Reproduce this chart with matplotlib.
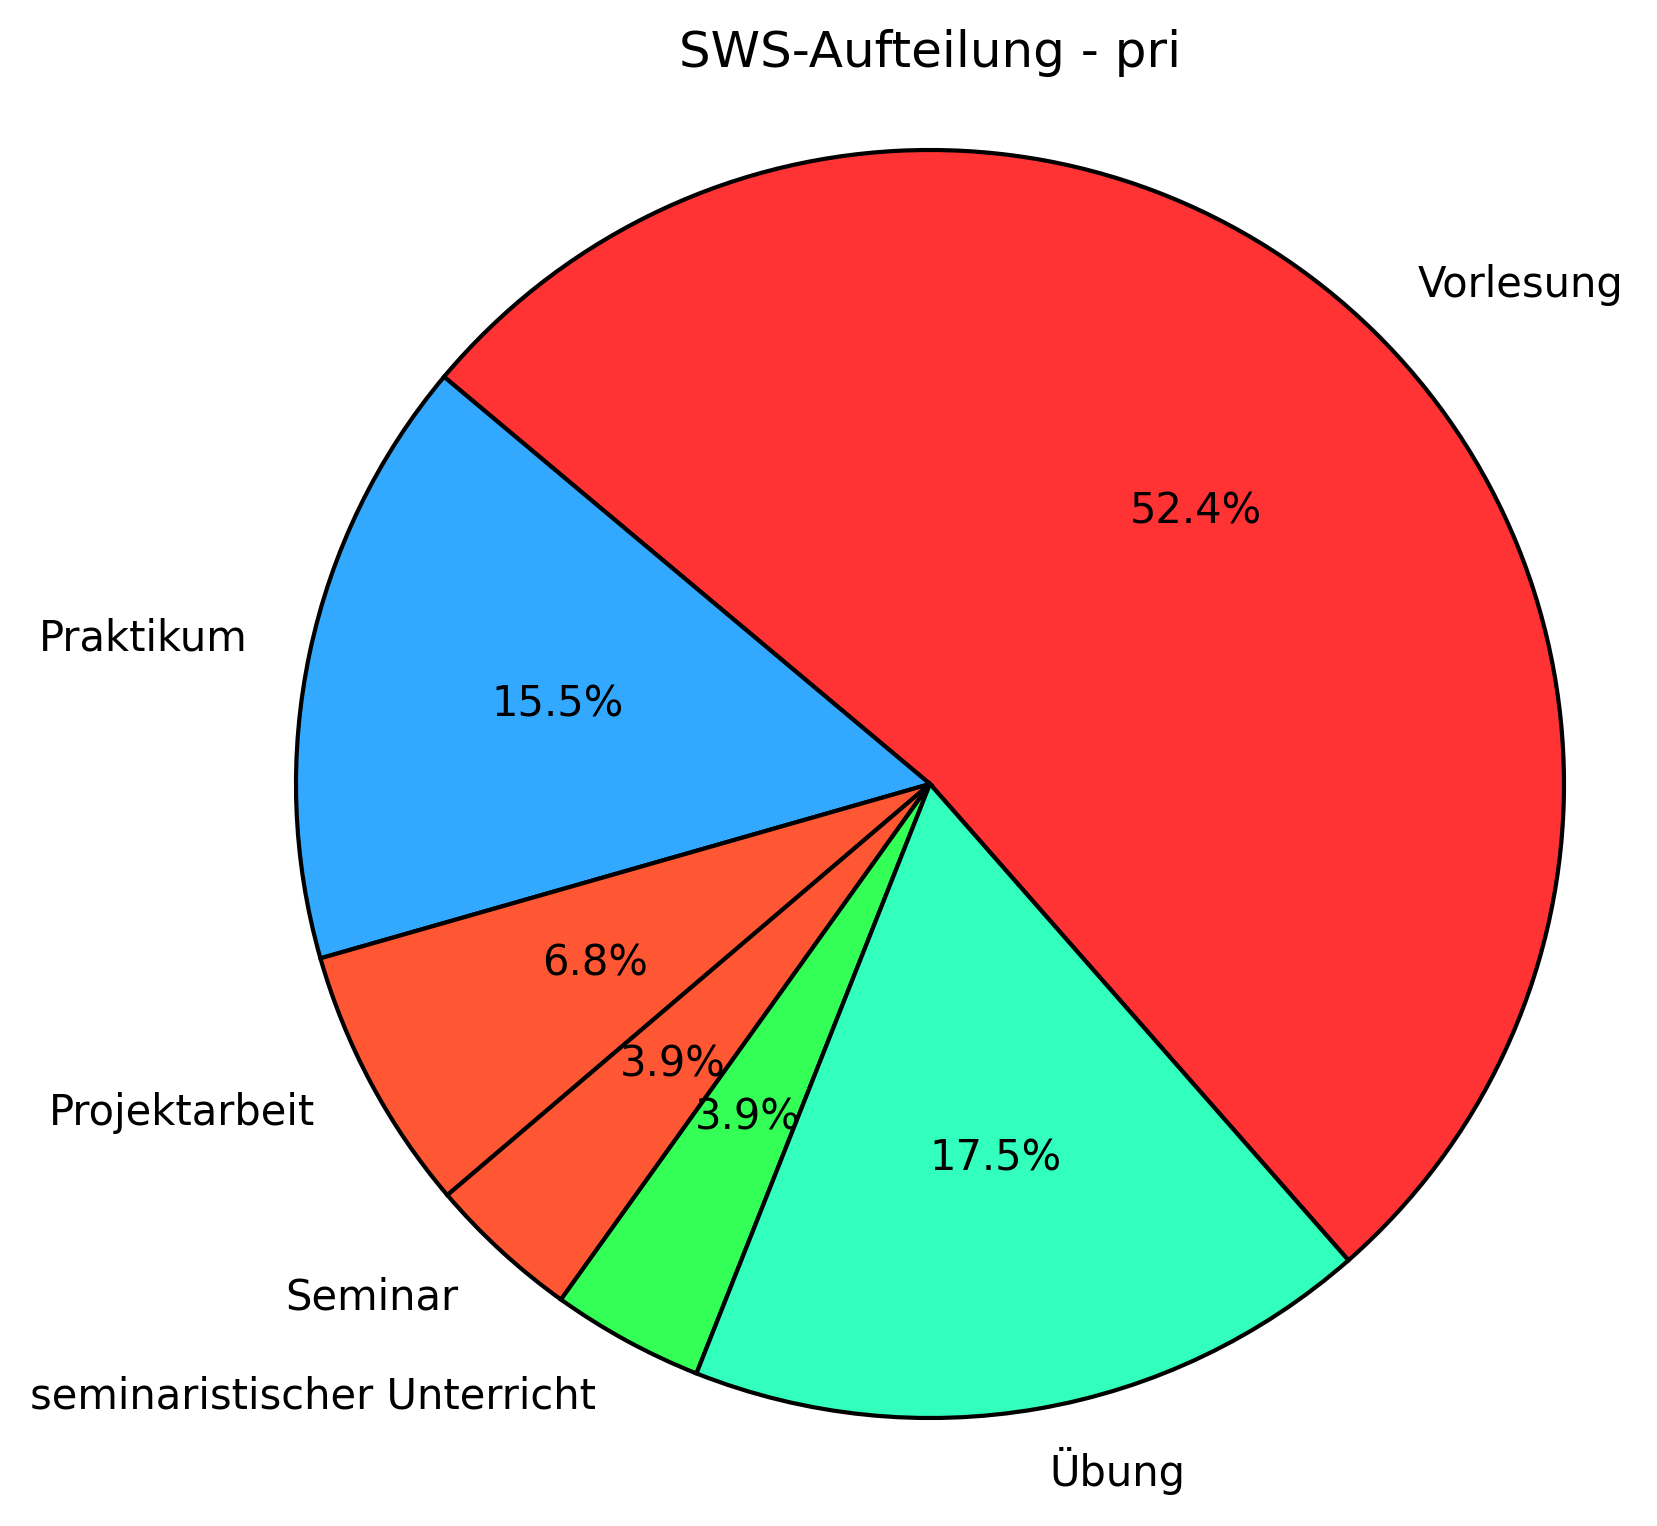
import matplotlib
matplotlib.use("Agg")
import matplotlib.pyplot as plt

categories = ["Vorlesung", "Praktikum", "Projektarbeit", "Seminar",
              "seminaristischer Unterricht", "Übung"]
sws = [54, 16, 7, 4, 4, 18]
colors = ["#FF3333", "#33A8FF", "#FF5733", "#FF5733", "#33FF57", "#33FFBD"]
title = "SWS-Aufteilung - pri"

W, H, DPI = 1657, 1526, 300
fig = plt.figure(figsize=(W / DPI, H / DPI), dpi=DPI)
cx, cy, r = 930, 784, 634
half = 1.25 * r
ax = fig.add_axes([(cx - half) / W, (H - cy - half) / H, 2 * half / W, 2 * half / H])
ax.pie(sws, labels=categories, colors=colors, autopct="%1.1f%%",
       startangle=-48.7, counterclock=True,
       wedgeprops=dict(edgecolor="black", linewidth=1.0),
       textprops=dict(fontsize=10))
ax.set_xlim(-1.25, 1.25)
ax.set_ylim(-1.25, 1.25)
ax.set_aspect("equal")
fig.text(cx / W, 1 - 53 / H, title, ha="center", va="center", fontsize=12)
fig.savefig("out.png", dpi=DPI)
